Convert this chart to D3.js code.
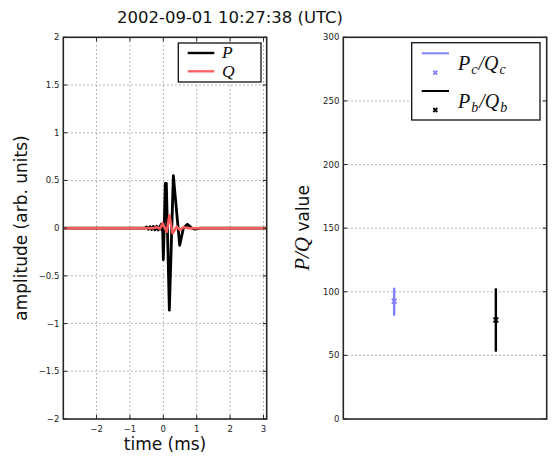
<!DOCTYPE html>
<html>
<head>
<meta charset="utf-8">
<script src="https://cdn.jsdelivr.net/npm/d3@7"></script>
<style>
  html, body { margin: 0; padding: 0; background: #fff; }
  svg { display: block; font-family: "DejaVu Sans", sans-serif; }
  .serif { font-family: "Liberation Serif", serif; font-style: italic; }
</style>
</head>
<body>
<svg id="chart" width="554" height="461"></svg>
<script>
// ---------------- data ----------------
const titleText = "2002-09-01 10:27:38 (UTC)";

// P trace (time in ms, amplitude)
const pTime = [-3.0, -0.55, -0.5, -0.45, -0.4, -0.35, -0.3, -0.25, -0.2, -0.15, -0.1,
               -0.08, -0.05, 0.0, 0.04, 0.06, 0.02, -0.03, -0.06, -0.08,
               -0.02, 0.0, 0.06, 0.09, 0.18, 0.30, 0.49, 0.60, 0.72, 0.85, 0.95, 1.1, 3.1];
const pVal  = [0.0, 0.0, 0.012, -0.012, 0.015, -0.015, 0.018, -0.018, 0.02, -0.02, 0.02,
               0.03, 0.045, 0.042, 0.025, 0.0, -0.025, -0.025, -0.01, 0.01,
               0.0, -0.33, 0.47, 0.47, -0.86, 0.55, -0.18, 0.0, 0.04, 0.0, -0.01, 0.0, 0.0];

// Q trace
const qTime = [-3.0, -0.3, -0.2, -0.1, -0.02, 0.1, 0.18, 0.28, 0.40, 0.50, 0.60, 0.75, 3.1];
const qVal  = [0.0, 0.0, 0.01, -0.005, 0.05, -0.04, 0.135, -0.055, 0.015, -0.02, 0.01, 0.0, 0.0];

const xTicks = [-2, -1, 0, 1, 2, 3];
const yTicksL = [-2, -1.5, -1, -0.5, 0, 0.5, 1, 1.5, 2];
const yTicksR = [0, 50, 100, 150, 200, 250, 300];

// ratio panel
const ratioNames = ["Pc/Qc", "Pb/Qb"];
const ratioPos   = [1, 2];
const ratioVal   = [92.5, 77.8];
const ratioLow   = [81.2, 52.9];
const ratioHigh  = [103.2, 102.7];
const ratioColor = ["#8080ff", "#000000"];

// ---------------- layout ----------------
const svg = d3.select("#chart");
const L = {x0: 63.3, x1: 266.7, y0: 37.3, y1: 419};
const R = {x0: 343.3, x1: 546.7, y0: 37.3, y1: 419};
const frameColor = "#262626";
const gridColor = "#8a8a8a";

const xL = d3.scaleLinear().domain([-2.995, 3.095]).range([L.x0, L.x1]);
const yL = d3.scaleLinear().domain([-2, 2]).range([L.y1, L.y0]);
const xR = d3.scaleLinear().domain([0.5, 2.5]).range([R.x0, R.x1]);
const yR = d3.scaleLinear().domain([0, 300]).range([R.y1, R.y0]);

// title
svg.append("text").attr("x", 230).attr("y", 23).attr("text-anchor", "middle")
  .attr("font-size", 16.5).attr("fill", "#111").text(titleText);

// ---------- left panel ----------
const gL = svg.append("g");
gL.selectAll(".vg").data(xTicks).join("line")
  .attr("x1", d => xL(d)).attr("x2", d => xL(d)).attr("y1", L.y0).attr("y2", L.y1)
  .attr("stroke", gridColor).attr("stroke-width", 1).attr("stroke-dasharray", "1.2,2.8");
gL.selectAll(".hg").data(yTicksL.filter(d => d > -2 && d < 2)).join("line")
  .attr("x1", L.x0).attr("x2", L.x1).attr("y1", d => yL(d)).attr("y2", d => yL(d))
  .attr("stroke", gridColor).attr("stroke-width", 1).attr("stroke-dasharray", "1.2,2.8");

svg.append("clipPath").attr("id", "clipL").append("rect")
  .attr("x", L.x0).attr("y", L.y0).attr("width", L.x1 - L.x0).attr("height", L.y1 - L.y0);

const lineL = d3.line().x(d => xL(d[0])).y(d => yL(d[1]));
const pData = pTime.map((t, i) => [t, pVal[i]]);
const qData = qTime.map((t, i) => [t, qVal[i]]);
gL.append("path").attr("d", lineL(pData)).attr("fill", "none").attr("stroke", "#000")
  .attr("stroke-width", 2.8).attr("stroke-linejoin", "round").attr("clip-path", "url(#clipL)");
gL.append("path").attr("d", lineL(qData)).attr("fill", "none").attr("stroke", "#ff5a5a")
  .attr("stroke-width", 2.5).attr("stroke-linejoin", "round").attr("clip-path", "url(#clipL)");

const tl = 4;
xTicks.forEach(t => {
  gL.append("line").attr("x1", xL(t)).attr("x2", xL(t)).attr("y1", L.y1).attr("y2", L.y1 - tl)
    .attr("stroke", frameColor).attr("stroke-width", 1);
  gL.append("line").attr("x1", xL(t)).attr("x2", xL(t)).attr("y1", L.y0).attr("y2", L.y0 + tl)
    .attr("stroke", frameColor).attr("stroke-width", 1);
  gL.append("text").attr("x", xL(t)).attr("y", 431.5).attr("text-anchor", "middle")
    .attr("font-size", 8.5).attr("fill", "#222").text(String(t).replace("-", "\u2212"));
});
yTicksL.forEach(t => {
  gL.append("line").attr("x1", L.x0).attr("x2", L.x0 + tl).attr("y1", yL(t)).attr("y2", yL(t))
    .attr("stroke", frameColor).attr("stroke-width", 1);
  gL.append("line").attr("x1", L.x1).attr("x2", L.x1 - tl).attr("y1", yL(t)).attr("y2", yL(t))
    .attr("stroke", frameColor).attr("stroke-width", 1);
  gL.append("text").attr("x", 59.3).attr("y", yL(t) + 3).attr("text-anchor", "end")
    .attr("font-size", 8.5).attr("fill", "#222").text(String(t).replace("-", "\u2212"));
});
gL.append("rect").attr("x", L.x0).attr("y", L.y0).attr("width", L.x1 - L.x0).attr("height", L.y1 - L.y0)
  .attr("fill", "none").attr("stroke", frameColor).attr("stroke-width", 1.6);

svg.append("text").attr("transform", "translate(27,228) rotate(-90)").attr("text-anchor", "middle")
  .attr("font-size", 17).attr("fill", "#111").text("amplitude (arb. units)");
svg.append("text").attr("x", 165).attr("y", 450).attr("text-anchor", "middle")
  .attr("font-size", 17).attr("fill", "#111").text("time (ms)");

// legend left
const lgL = svg.append("g");
lgL.append("rect").attr("x", 178.3).attr("y", 43).attr("width", 82.7).attr("height", 39)
  .attr("fill", "#fff").attr("stroke", "#111").attr("stroke-width", 1.3);
[["P", "#000", 53, 58], ["Q", "#ff6464", 71.3, 77]].forEach(([lab, col, ly, ty]) => {
  lgL.append("line").attr("x1", 187.7).attr("x2", 214.3).attr("y1", ly).attr("y2", ly)
    .attr("stroke", col).attr("stroke-width", 2.4);
  lgL.append("text").attr("class", "serif").attr("x", 222).attr("y", ty)
    .attr("font-size", 17.5).attr("fill", "#111").text(lab);
});

// ---------- right panel ----------
const gR = svg.append("g");
gR.selectAll(".hg").data(yTicksR.filter(d => d > 0 && d < 300)).join("line")
  .attr("x1", R.x0).attr("x2", R.x1).attr("y1", d => yR(d)).attr("y2", d => yR(d))
  .attr("stroke", gridColor).attr("stroke-width", 1).attr("stroke-dasharray", "1.2,2.8");
yTicksR.forEach(t => {
  gR.append("line").attr("x1", R.x0).attr("x2", R.x0 + tl).attr("y1", yR(t)).attr("y2", yR(t))
    .attr("stroke", frameColor).attr("stroke-width", 1);
  gR.append("line").attr("x1", R.x1).attr("x2", R.x1 - tl).attr("y1", yR(t)).attr("y2", yR(t))
    .attr("stroke", frameColor).attr("stroke-width", 1);
  gR.append("text").attr("x", 339.3).attr("y", yR(t) + 3).attr("text-anchor", "end")
    .attr("font-size", 8.5).attr("fill", "#222").text(String(t));
});

function xMark(g, cx, cy, col, s) {
  g.append("path").attr("d", `M${cx - s},${cy - s}L${cx + s},${cy + s}M${cx - s},${cy + s}L${cx + s},${cy - s}`)
    .attr("stroke", col).attr("stroke-width", 1.8).attr("fill", "none");
}
ratioPos.forEach((p, i) => {
  gR.append("line").attr("x1", xR(p)).attr("x2", xR(p)).attr("y1", yR(ratioLow[i])).attr("y2", yR(ratioHigh[i]))
    .attr("stroke", ratioColor[i]).attr("stroke-width", 2.4);
  xMark(gR, xR(p), yR(ratioVal[i]), ratioColor[i], 2.4);
});
gR.append("rect").attr("x", R.x0).attr("y", R.y0).attr("width", R.x1 - R.x0).attr("height", R.y1 - R.y0)
  .attr("fill", "none").attr("stroke", frameColor).attr("stroke-width", 1.6);

const ylab = svg.append("text").attr("transform", "translate(309,228) rotate(-90)")
  .attr("text-anchor", "middle").attr("fill", "#111");
ylab.append("tspan").attr("class", "serif").attr("font-size", 21).text("P/Q");
ylab.append("tspan").attr("font-size", 17).text(" value");

// legend right
const lgR = svg.append("g");
lgR.append("rect").attr("x", 411.7).attr("y", 42.7).attr("width", 128.3).attr("height", 77.3)
  .attr("fill", "#fff").attr("stroke", "#111").attr("stroke-width", 1.3);
[[0, 53.3, 72.7, 69.5], [1, 91, 110, 107.5]].forEach(([i, ly, my, ty]) => {
  lgR.append("line").attr("x1", 421.7).attr("x2", 449).attr("y1", ly).attr("y2", ly)
    .attr("stroke", ratioColor[i]).attr("stroke-width", 2);
  xMark(lgR, 435.3, my, ratioColor[i], 2);
  const sub = ratioNames[i].charAt(1);
  const t = lgR.append("text").attr("class", "serif").attr("x", 458).attr("y", ty)
    .attr("font-size", 20).attr("fill", "#111");
  t.append("tspan").text("P");
  t.append("tspan").attr("font-size", 14).attr("dy", 4).attr("dx", 1).text(sub);
  t.append("tspan").attr("dy", -4).attr("dx", 1).text("/Q");
  t.append("tspan").attr("font-size", 14).attr("dy", 4).attr("dx", 1).text(sub);
});
</script>
</body>
</html>
